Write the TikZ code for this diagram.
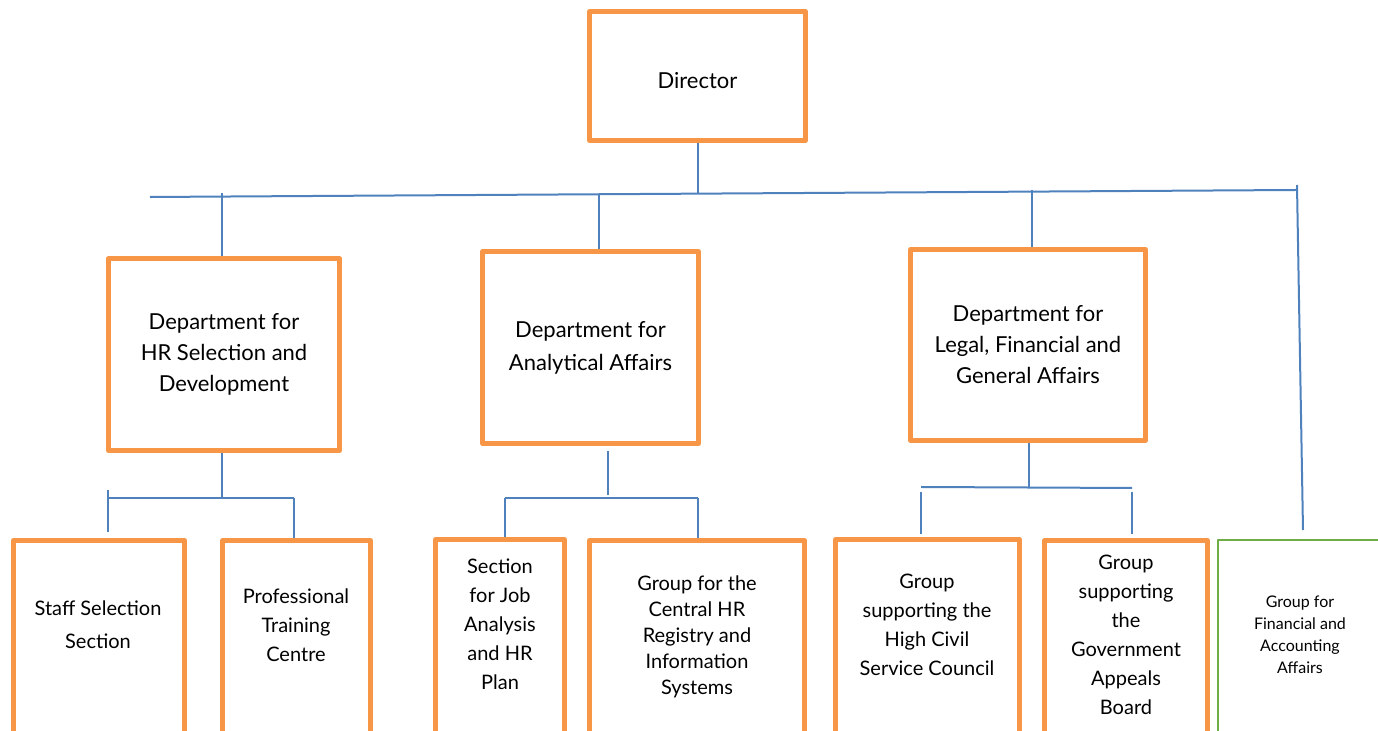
\documentclass[tikz,border=0pt]{standalone}
\usepackage{fontspec}
\setmainfont{Lato}
\usetikzlibrary{positioning, calc}
\definecolor{boxorange}{HTML}{F79646}
\definecolor{linkblue}{HTML}{4F81BD}
\definecolor{boxgreen}{HTML}{70AD47}

\begin{document}
\begin{tikzpicture}[x=0.5pt, y=-0.5pt,
    every node/.style={inner sep=0pt},
    box/.style={draw=boxorange, line width=2.5pt, line join=round, align=center},
    unit/.style={box, anchor=north, minimum height=230pt},
    txt/.style={align=center, font=\fontsize{10}{14.5}\selectfont},
    conn/.style={draw=linkblue, line width=1pt}]

% Page frame (boxes of the last row run past the bottom edge)
\clip (0,0) rectangle (1378,731);

% Director
\node[box, minimum width=108pt, minimum height=64.5pt, text height=13pt, text depth=0pt, font=\fontsize{11}{15}\selectfont] (dir) at (697.5,76) {Director};

% Departments
\node[box, minimum width=115.5pt, minimum height=96pt, font=\fontsize{11}{15.5}\selectfont] (hrsel) at (224,354.5) {Department for\\HR Selection and\\Development};
\node[box, minimum width=108pt, minimum height=96pt, font=\fontsize{11}{16.5}\selectfont] (ana) at (590.5,347.5) {Department for\\Analytical Affairs};
\node[box, minimum width=117.5pt, minimum height=95.5pt, font=\fontsize{11}{15.5}\selectfont] (legal) at (1028,345) {Department for\\Legal, Financial and\\General Affairs};

% Sections and groups (bottom row)
\node[unit, minimum width=85.5pt] (staff) at (99,538) {};
\node[unit, minimum width=74pt] (prof) at (296.5,538) {};
\node[unit, minimum width=64.5pt] (sjob) at (500,537) {};
\node[unit, minimum width=107.5pt] (chr) at (697,538) {};
\node[unit, minimum width=92pt] (civil) at (927.5,537) {};
\node[unit, minimum width=81.5pt] (gov) at (1126,538) {};
\node[unit, draw=boxgreen, line width=1pt, minimum width=90.5pt] (fin) at (1308.5,539) {};

% Texts of the bottom row
\node[txt, font=\fontsize{10}{16.5}\selectfont] (staffT) at (98,625) {Staff Selection\\Section};
\node[txt] (profT) at (296,625) {Professional\\Training\\Centre};
\node[txt] (sjobT) at (500,624) {Section\\for Job\\Analysis\\and HR\\Plan};
\node[txt, font=\fontsize{10}{13}\selectfont] (chrT) at (697,637) {Group for the\\Central HR\\Registry and\\Information\\Systems};
\node[txt] (civilT) at (927,625) {Group\\supporting the\\High Civil\\Service Council};
\node[txt] (govT) at (1126,635) {Group\\supporting\\the\\Government\\Appeals\\Board};
\node[txt, font=\fontsize{8}{11}\selectfont] (finT) at (1300,635) {Group for\\Financial and\\Accounting\\Affairs};

% Top bus
\coordinate (busL) at (150,197);
\coordinate (busR) at (1296,190);
\draw[conn] (busL) -- (busR);
\coordinate (jDir) at (698,193);
\draw[conn] (dir.south -| jDir) -- (jDir);
\coordinate (jHR) at (222,193);
\draw[conn] (jHR) -- (jHR |- hrsel.north);
\coordinate (jAna) at (599,195);
\draw[conn] (jAna) -- (jAna |- ana.north);
\coordinate (jLeg) at (1032,190);
\draw[conn] (jLeg) -- (jLeg |- legal.north);

% Financial group branch
\coordinate (jFin) at (1297,185);
\coordinate (finTop) at (1303,530);
\draw[conn] (jFin) -- (finTop);

% HR selection branch
\coordinate (hrJ) at (222,498);
\coordinate (hrL) at (108,498);
\coordinate (hrR) at (294,498);
\draw[conn] (hrJ |- hrsel.south) -- (hrJ);
\draw[conn] (hrL) -- (hrR);
\draw[conn] ($(hrL)+(0,-8)$) -- ($(hrL |- staff.north)+(0,-6)$);
\draw[conn] (hrR) -- (hrR |- prof.north);

% Analytical branch
\coordinate (anaJ) at (608,498);
\coordinate (anaL) at (505,498);
\coordinate (anaR) at (698,498);
\draw[conn] ($(anaJ |- ana.south)+(0,5)$) -- ($(anaJ)+(0,-3)$);
\draw[conn] (anaL) -- (anaR);
\draw[conn] (anaL) -- (anaL |- sjob.north);
\draw[conn] (anaR) -- (anaR |- chr.north);

% Legal branch
\coordinate (legJ) at (1029,487);
\coordinate (legL) at (921,487);
\coordinate (legR) at (1132,488);
\draw[conn] (legJ |- legal.south) -- (legJ);
\draw[conn] (legL) -- (legR);
\draw[conn] ($(legL)+(0,5)$) -- ($(legL |- civil.north)+(0,-3)$);
\draw[conn] ($(legR)+(0,4)$) -- ($(legR |- gov.north)+(0,-4)$);
\end{tikzpicture}
\end{document}
